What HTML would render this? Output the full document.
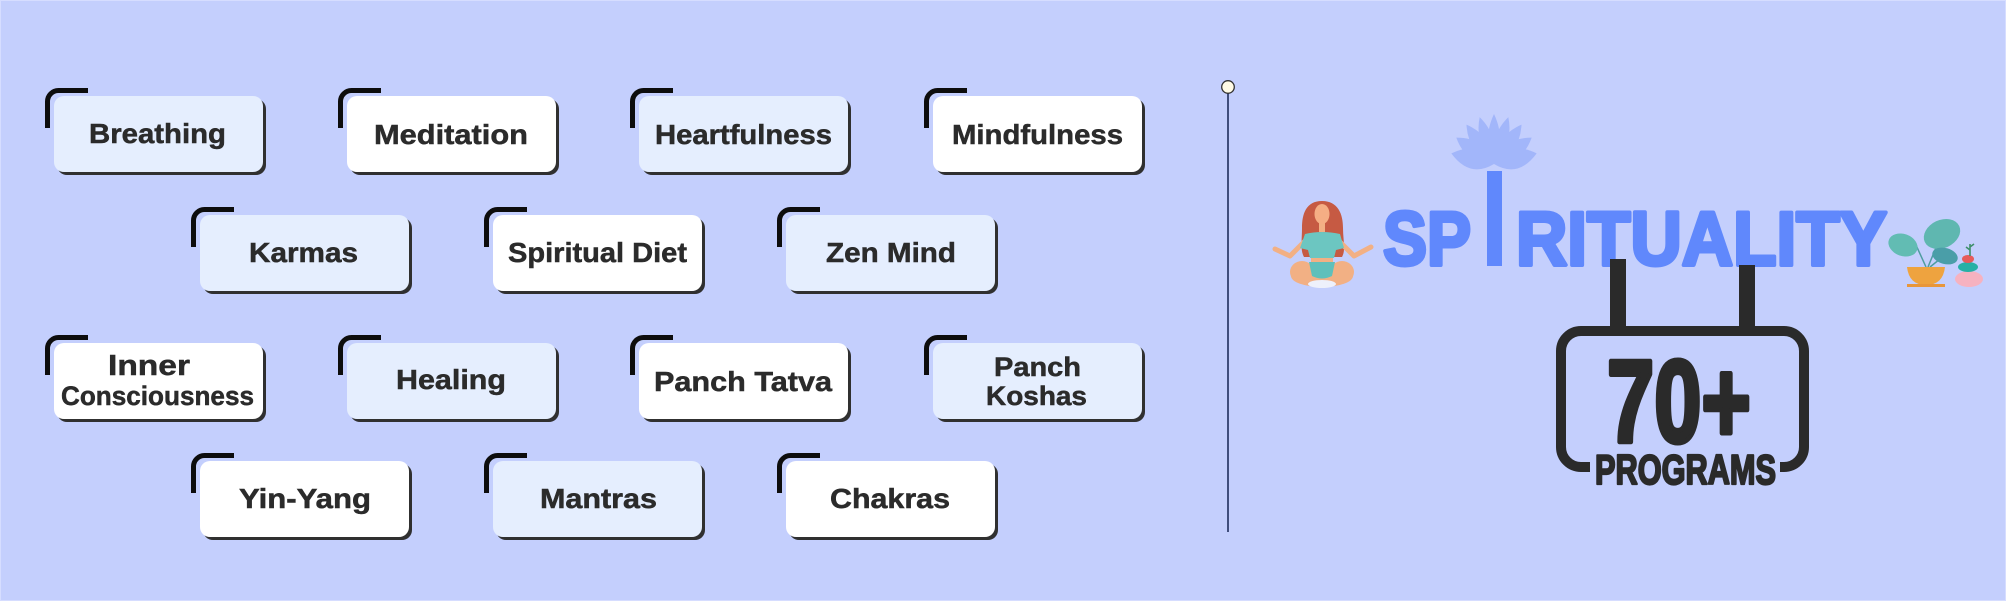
<!DOCTYPE html>
<html>
<head>
<meta charset="utf-8">
<style>
  html,body{margin:0;padding:0;background:#c4cffd;}
  svg{display:block;}
  .lbl{font-family:"Liberation Sans",Arial,sans-serif;font-weight:bold;font-size:28px;fill:#2b2b2b;stroke:#2b2b2b;stroke-width:0.5px;}
  .lbl2{font-family:"Liberation Sans",Arial,sans-serif;font-weight:bold;font-size:27px;fill:#2b2b2b;stroke:#2b2b2b;stroke-width:0.5px;}
</style>
</head>
<body>
<svg width="2006" height="601" viewBox="0 0 2006 601" xmlns="http://www.w3.org/2000/svg">
  <rect x="0" y="0" width="2006" height="601" fill="#c4cffd"/>
  <rect x="0.5" y="0.5" width="2005" height="600" fill="none" stroke="#d6ddff" stroke-width="1"/>

  <g id="boxes">
    <!-- Row 1 -->
    <rect x="57" y="99" width="209" height="76" rx="10" fill="#303030"/>
    <rect x="54" y="96" width="209" height="76" rx="10" fill="#e5eefe"/>
    <path d="M47.5 128 V101.5 A11 11 0 0 1 58.5 90.5 H88" fill="none" stroke="#0d0d0d" stroke-width="5"/>
    <text class="lbl" x="89" y="143" textLength="137" lengthAdjust="spacingAndGlyphs">Breathing</text>

    <rect x="350" y="99" width="209" height="76" rx="10" fill="#303030"/>
    <rect x="347" y="96" width="209" height="76" rx="10" fill="#ffffff"/>
    <path d="M340.5 128 V101.5 A11 11 0 0 1 351.5 90.5 H381" fill="none" stroke="#0d0d0d" stroke-width="5"/>
    <text class="lbl" x="374" y="144" textLength="154" lengthAdjust="spacingAndGlyphs">Meditation</text>

    <rect x="642" y="99" width="209" height="76" rx="10" fill="#303030"/>
    <rect x="639" y="96" width="209" height="76" rx="10" fill="#e5eefe"/>
    <path d="M632.5 128 V101.5 A11 11 0 0 1 643.5 90.5 H673" fill="none" stroke="#0d0d0d" stroke-width="5"/>
    <text class="lbl" x="655" y="144" textLength="177" lengthAdjust="spacingAndGlyphs">Heartfulness</text>

    <rect x="936" y="99" width="209" height="76" rx="10" fill="#303030"/>
    <rect x="933" y="96" width="209" height="76" rx="10" fill="#ffffff"/>
    <path d="M926.5 128 V101.5 A11 11 0 0 1 937.5 90.5 H967" fill="none" stroke="#0d0d0d" stroke-width="5"/>
    <text class="lbl" x="952" y="144" textLength="171" lengthAdjust="spacingAndGlyphs">Mindfulness</text>

    <!-- Row 2 -->
    <rect x="203" y="218" width="209" height="76" rx="10" fill="#303030"/>
    <rect x="200" y="215" width="209" height="76" rx="10" fill="#e5eefe"/>
    <path d="M193.5 247 V220.5 A11 11 0 0 1 204.5 209.5 H234" fill="none" stroke="#0d0d0d" stroke-width="5"/>
    <text class="lbl" x="249" y="262" textLength="109" lengthAdjust="spacingAndGlyphs">Karmas</text>

    <rect x="496" y="218" width="209" height="76" rx="10" fill="#303030"/>
    <rect x="493" y="215" width="209" height="76" rx="10" fill="#ffffff"/>
    <path d="M486.5 247 V220.5 A11 11 0 0 1 497.5 209.5 H527" fill="none" stroke="#0d0d0d" stroke-width="5"/>
    <text class="lbl" x="508" y="262" textLength="179" lengthAdjust="spacingAndGlyphs">Spiritual Diet</text>

    <rect x="789" y="218" width="209" height="76" rx="10" fill="#303030"/>
    <rect x="786" y="215" width="209" height="76" rx="10" fill="#e5eefe"/>
    <path d="M779.5 247 V220.5 A11 11 0 0 1 790.5 209.5 H820" fill="none" stroke="#0d0d0d" stroke-width="5"/>
    <text class="lbl" x="826" y="262" textLength="130" lengthAdjust="spacingAndGlyphs">Zen Mind</text>

    <!-- Row 3 -->
    <rect x="57" y="346" width="209" height="76" rx="10" fill="#303030"/>
    <rect x="54" y="343" width="209" height="76" rx="10" fill="#ffffff"/>
    <path d="M47.5 375 V348.5 A11 11 0 0 1 58.5 337.5 H88" fill="none" stroke="#0d0d0d" stroke-width="5"/>
    <text class="lbl2" x="108" y="375" textLength="82" lengthAdjust="spacingAndGlyphs" style="font-size:29px">Inner</text>
    <text class="lbl2" x="61" y="405" textLength="193" lengthAdjust="spacingAndGlyphs">Consciousness</text>

    <rect x="350" y="346" width="209" height="76" rx="10" fill="#303030"/>
    <rect x="347" y="343" width="209" height="76" rx="10" fill="#e5eefe"/>
    <path d="M340.5 375 V348.5 A11 11 0 0 1 351.5 337.5 H381" fill="none" stroke="#0d0d0d" stroke-width="5"/>
    <text class="lbl" x="396" y="389" textLength="110" lengthAdjust="spacingAndGlyphs">Healing</text>

    <rect x="642" y="346" width="209" height="76" rx="10" fill="#303030"/>
    <rect x="639" y="343" width="209" height="76" rx="10" fill="#ffffff"/>
    <path d="M632.5 375 V348.5 A11 11 0 0 1 643.5 337.5 H673" fill="none" stroke="#0d0d0d" stroke-width="5"/>
    <text class="lbl" x="654" y="391" textLength="178" lengthAdjust="spacingAndGlyphs">Panch Tatva</text>

    <rect x="936" y="346" width="209" height="76" rx="10" fill="#303030"/>
    <rect x="933" y="343" width="209" height="76" rx="10" fill="#e5eefe"/>
    <path d="M926.5 375 V348.5 A11 11 0 0 1 937.5 337.5 H967" fill="none" stroke="#0d0d0d" stroke-width="5"/>
    <text class="lbl2" x="994" y="376" textLength="87" lengthAdjust="spacingAndGlyphs">Panch</text>
    <text class="lbl2" x="986" y="405" textLength="101" lengthAdjust="spacingAndGlyphs">Koshas</text>

    <!-- Row 4 -->
    <rect x="203" y="464" width="209" height="76" rx="10" fill="#303030"/>
    <rect x="200" y="461" width="209" height="76" rx="10" fill="#ffffff"/>
    <path d="M193.5 493 V466.5 A11 11 0 0 1 204.5 455.5 H234" fill="none" stroke="#0d0d0d" stroke-width="5"/>
    <text class="lbl" x="239" y="508" textLength="132" lengthAdjust="spacingAndGlyphs">Yin-Yang</text>

    <rect x="496" y="464" width="209" height="76" rx="10" fill="#303030"/>
    <rect x="493" y="461" width="209" height="76" rx="10" fill="#e5eefe"/>
    <path d="M486.5 493 V466.5 A11 11 0 0 1 497.5 455.5 H527" fill="none" stroke="#0d0d0d" stroke-width="5"/>
    <text class="lbl" x="540" y="508" textLength="117" lengthAdjust="spacingAndGlyphs">Mantras</text>

    <rect x="789" y="464" width="209" height="76" rx="10" fill="#303030"/>
    <rect x="786" y="461" width="209" height="76" rx="10" fill="#ffffff"/>
    <path d="M779.5 493 V466.5 A11 11 0 0 1 790.5 455.5 H820" fill="none" stroke="#0d0d0d" stroke-width="5"/>
    <text class="lbl" x="830" y="508" textLength="120" lengthAdjust="spacingAndGlyphs">Chakras</text>
  </g>

  <!-- Divider line with pin -->
  <line x1="1228" y1="93" x2="1228" y2="532" stroke="#1f2d5c" stroke-width="1.6"/>
  <circle cx="1228" cy="87" r="6.3" fill="#fffbe6" stroke="#333" stroke-width="1.3"/>

  <!-- Lotus (wide overlapping petals) -->
  <g fill="#7b98f8" opacity="0.45">
    <path d="M0 0 Q-20 -20 0 -44 Q20 -20 0 0 Z" transform="translate(1494 164) rotate(-76)"/>
    <path d="M0 0 Q-20 -20 0 -44 Q20 -20 0 0 Z" transform="translate(1494 164) rotate(76)"/>
    <path d="M0 0 Q-17 -22 0 -46 Q17 -22 0 0 Z" transform="translate(1494 164) rotate(-55)"/>
    <path d="M0 0 Q-17 -22 0 -46 Q17 -22 0 0 Z" transform="translate(1494 164) rotate(55)"/>
    <path d="M0 0 Q-15 -24 0 -48 Q15 -24 0 0 Z" transform="translate(1494 164) rotate(-35)"/>
    <path d="M0 0 Q-15 -24 0 -48 Q15 -24 0 0 Z" transform="translate(1494 164) rotate(35)"/>
    <path d="M0 0 Q-13 -25 0 -49 Q13 -25 0 0 Z" transform="translate(1494 164) rotate(-17)"/>
    <path d="M0 0 Q-13 -25 0 -49 Q13 -25 0 0 Z" transform="translate(1494 164) rotate(17)"/>
    <path d="M0 0 Q-12 -25 0 -50 Q12 -25 0 0 Z" transform="translate(1494 164)"/>
  </g>

  <!-- SPIRITUALITY -->
  <g font-family="Liberation Sans, Arial, sans-serif" font-weight="bold" font-size="76" fill="#6088fc" stroke="#6088fc" stroke-width="4" stroke-linejoin="round">
    <text x="1383" y="265" textLength="88" lengthAdjust="spacingAndGlyphs">SP</text>
    <text x="1516" y="265" textLength="371" lengthAdjust="spacingAndGlyphs">RITUALITY</text>
  </g>
  <rect x="1487" y="171" width="15" height="95" fill="#6088fc"/>

  <!-- Woman meditating -->
  <g>
    <path d="M1322 201 C1306 201 1302 214 1302 228 C1302 240 1300 250 1304 257 L1342 257 C1346 250 1343 240 1343 228 C1343 214 1338 201 1322 201 Z" fill="#c65a43"/>
    <path d="M1306 240 L1290 256 L1275 249" fill="none" stroke="#f2b084" stroke-width="5" stroke-linecap="round" stroke-linejoin="round"/>
    <path d="M1338 240 L1354 256 L1371 247" fill="none" stroke="#f2b084" stroke-width="5" stroke-linecap="round" stroke-linejoin="round"/>
    <ellipse cx="1322" cy="276" rx="31" ry="11" fill="#f2b084"/>
    <ellipse cx="1302" cy="272" rx="12" ry="11" fill="#f2b084"/>
    <ellipse cx="1342" cy="272" rx="12" ry="11" fill="#f2b084"/>
    <rect x="1311" y="254" width="22" height="9" fill="#f2b084"/>
    <path d="M1309 262 H1335 L1332 276 Q1322 281 1312 276 Z" fill="#5fc0bb"/>
    <path d="M1305 234 Q1322 230 1340 234 L1344 248 L1336 250 L1334 258 H1310 L1308 250 L1300 248 Z" fill="#6cc6c1"/>
    <rect x="1319" y="222" width="6" height="10" fill="#f2b084"/>
    <ellipse cx="1322" cy="214" rx="7.5" ry="10" fill="#f5ae84"/>
    <ellipse cx="1322" cy="284" rx="14" ry="4" fill="#eef1fb"/>
  </g>

  <!-- Plant and stones -->
  <g>
    <path d="M1926 267 L1916 245 M1928 267 L1940 238 M1930 267 L1945 255" stroke="#4e9da0" stroke-width="1.5" fill="none"/>
    <ellipse cx="1903" cy="245" rx="15" ry="11" fill="#62bcb3" transform="rotate(20 1903 245)"/>
    <ellipse cx="1942" cy="234" rx="19" ry="14" fill="#5fb7b0" transform="rotate(-25 1942 234)"/>
    <ellipse cx="1945" cy="256" rx="13" ry="8" fill="#4a9ea8" transform="rotate(15 1945 256)"/>
    <path d="M1907 267 H1945 Q1943 285 1926 285 Q1909 285 1907 267 Z" fill="#eea33f"/>
    <rect x="1907" y="284" width="38" height="3" fill="#e8963a"/>
    <ellipse cx="1969" cy="279" rx="14" ry="8" fill="#f6b2c0"/>
    <ellipse cx="1968" cy="267" rx="10" ry="5" fill="#26b0a5"/>
    <ellipse cx="1968" cy="259" rx="6" ry="4" fill="#e65b5b"/>
    <path d="M1970 256 V244 M1970 250 L1966 247 M1970 247 L1974 244" stroke="#3d8f6a" stroke-width="1.6" fill="none"/>
  </g>

  <!-- 70+ PROGRAMS sign -->
  <rect x="1610" y="259" width="16" height="74" fill="#2a2a2a"/>
  <rect x="1739" y="265" width="16" height="68" fill="#2a2a2a"/>
  <path d="M1590 467 H1581 A20 20 0 0 1 1561 447 V351 A20 20 0 0 1 1581 331 H1784 A20 20 0 0 1 1804 351 V447 A20 20 0 0 1 1784 467 H1780" fill="none" stroke="#2a2a2a" stroke-width="10"/>
  <text x="1607" y="442" font-family="Liberation Sans, Arial, sans-serif" font-weight="bold" font-size="117" fill="#2a2a2a" stroke="#2a2a2a" stroke-width="5" stroke-linejoin="round" textLength="144" lengthAdjust="spacingAndGlyphs">70+</text>
  <text x="1595" y="484" font-family="Liberation Sans, Arial, sans-serif" font-weight="bold" font-size="42" fill="#2a2a2a" stroke="#2a2a2a" stroke-width="2.2" stroke-linejoin="round" textLength="181" lengthAdjust="spacingAndGlyphs">PROGRAMS</text>
</svg>
</body>
</html>
